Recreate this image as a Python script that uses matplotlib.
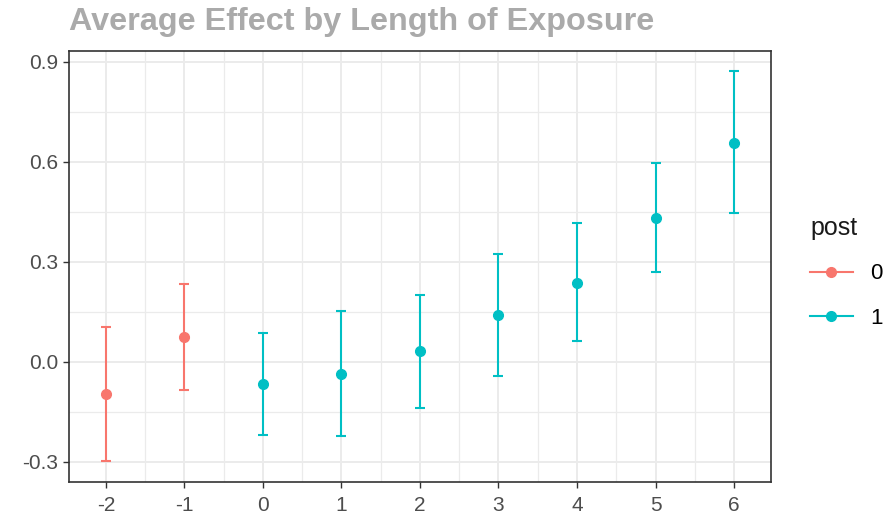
import matplotlib
matplotlib.use("Agg")
import matplotlib.pyplot as plt
from matplotlib.lines import Line2D
from matplotlib.ticker import MultipleLocator

plt.rcParams["font.family"] = ["Liberation Sans", "DejaVu Sans"]
plt.rcParams["axes.unicode_minus"] = False

# event time relative to exposure, estimate and 95% CI
rel_time = [-2, -1, 0, 1, 2, 3, 4, 5, 6]
post = [0, 0, 1, 1, 1, 1, 1, 1, 1]
estimate = [-0.097, 0.073, -0.067, -0.036, 0.031, 0.140, 0.237, 0.431, 0.657]
ci_low = [-0.298, -0.085, -0.219, -0.224, -0.139, -0.042, 0.061, 0.268, 0.446]
ci_high = [0.105, 0.232, 0.086, 0.152, 0.201, 0.323, 0.415, 0.597, 0.871]

colors = {0: "#F8766D", 1: "#00BFC4"}

fig = plt.figure(figsize=(8.91, 5.23), dpi=100)
ax = fig.add_axes([0.0774, 0.0784, 0.7879, 0.8241])

for grp in (0, 1):
    idx = [i for i, p in enumerate(post) if p == grp]
    xs = [rel_time[i] for i in idx]
    ys = [estimate[i] for i in idx]
    lo = [estimate[i] - ci_low[i] for i in idx]
    hi = [ci_high[i] - estimate[i] for i in idx]
    ax.errorbar(xs, ys, yerr=[lo, hi], fmt="none", ecolor=colors[grp],
                elinewidth=1.5, capsize=3.5, capthick=1.5, zorder=3)
    ax.plot(xs, ys, "o", color=colors[grp], markersize=7, zorder=4)

ax.set_xlim(-2.47, 6.47)
ax.set_ylim(-0.361, 0.932)
ax.set_xticks(rel_time)
ax.set_yticks([-0.3, 0.0, 0.3, 0.6, 0.9])
ax.set_yticklabels(["-0.3", "0.0", "0.3", "0.6", "0.9"])
ax.xaxis.set_minor_locator(MultipleLocator(0.5))
ax.yaxis.set_minor_locator(MultipleLocator(0.15))
ax.grid(which="major", color="#ebebeb", lw=1.4, zorder=0)
ax.grid(which="minor", color="#ebebeb", lw=0.9, zorder=0)
ax.tick_params(which="minor", length=0)
ax.tick_params(which="major", length=4, width=1, color="#333333",
               labelcolor="#4d4d4d", labelsize=15)
ax.tick_params(axis="x", pad=6)
ax.set_axisbelow(True)
for s in ax.spines.values():
    s.set_color("#333333")
    s.set_linewidth(1.2)

fig.text(0.077, 0.958, "Average Effect by Length of Exposure", fontsize=23.3,
         fontweight="bold", color="#aaaaaa", va="center", ha="left")

handles = [Line2D([], [], color=colors[g], marker="o", markersize=7, lw=1.5)
           for g in (0, 1)]
leg = fig.legend(handles, ["0", "1"], title="post", loc="upper left",
                 bbox_to_anchor=(0.887, 0.625), frameon=False, fontsize=16,
                 title_fontsize=18, handlelength=1.9, labelspacing=1.05,
                 alignment="left")
leg.get_title().set_color("#1a1a1a")

fig.savefig("out.png", dpi=100)
